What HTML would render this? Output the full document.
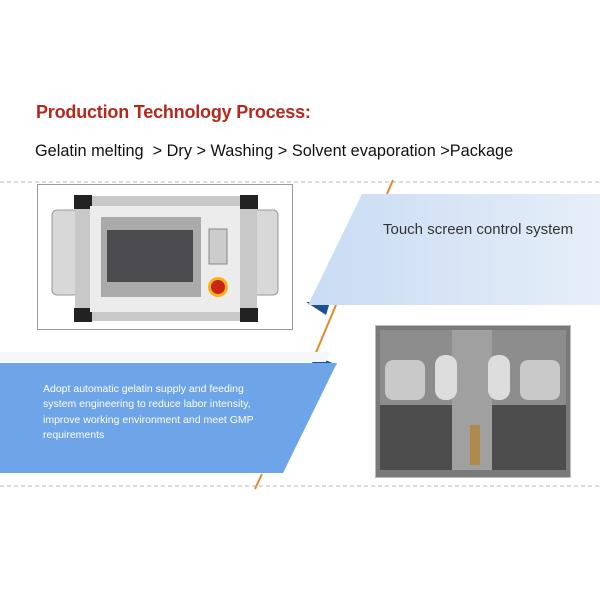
<!DOCTYPE html>
<html><head><style>
body{margin:0;width:600px;height:600px;background:#fff;position:relative;overflow:hidden;font-family:"Liberation Sans",Arial,sans-serif}
.a{position:absolute;white-space:nowrap}
</style></head><body>
<div class="a" style="left:36px;top:102px;font-size:18px;font-weight:bold;color:#b5281e;letter-spacing:-0.2px">Production Technology Process:</div>
<div class="a" style="left:35px;top:142px;font-size:16.3px;color:#111">Gelatin melting &nbsp;&gt; Dry &gt; Washing &gt; Solvent evaporation &gt;Package</div>
<svg class="a" style="left:0;top:0" width="600" height="600">
<line x1="0" y1="182" x2="600" y2="182" stroke="#bbb" stroke-dasharray="4,3"/>
<line x1="0" y1="486" x2="600" y2="486" stroke="#bbb" stroke-dasharray="4,3"/>
<line x1="393" y1="180" x2="387" y2="194" stroke="#e08a2c" stroke-width="2"/>
<line x1="336" y1="305" x2="312" y2="362" stroke="#e08a2c" stroke-width="2"/>
<line x1="262" y1="474" x2="255" y2="489" stroke="#e08a2c" stroke-width="2"/>
<polygon points="306,302 330,302 326,315" fill="#1f4e9a"/>
<polygon points="314,355 337,365 311,368" fill="#1f4e9a"/>
<defs><linearGradient id="g" x1="0" x2="1"><stop offset="0" stop-color="#c9dcf3"/><stop offset="1" stop-color="#e6eef9"/></linearGradient></defs>
<polygon points="0,352 330,352 326,362 0,362" fill="#f6f7f9"/>
<polygon points="362,194 600,194 600,305 308,305" fill="url(#g)"/>
<polygon points="0,363 337,363 283,473 0,473" fill="#6ea4e8"/>
<rect x="37.5" y="184.5" width="255" height="145" fill="#fff" stroke="#999"/>
<rect x="52" y="210" width="26" height="85" rx="5" fill="#d8d8d8" stroke="#999"/>
<rect x="252" y="210" width="26" height="85" rx="5" fill="#d8d8d8" stroke="#999"/>
<rect x="75" y="196" width="182" height="125" rx="6" fill="#c8c8c8"/>
<rect x="74" y="195" width="18" height="14" fill="#222"/>
<rect x="240" y="195" width="18" height="14" fill="#222"/>
<rect x="74" y="308" width="18" height="14" fill="#222"/>
<rect x="240" y="308" width="18" height="14" fill="#222"/>
<rect x="90" y="206" width="150" height="106" fill="#ececec"/>
<rect x="101" y="217" width="100" height="80" fill="#aaa"/>
<rect x="107" y="230" width="86" height="52" fill="#4a4a4f"/>
<rect x="209" y="229" width="18" height="35" fill="#ccc" stroke="#888"/>
<circle cx="218" cy="287" r="10" fill="#f2b31a"/><circle cx="218" cy="287" r="7" fill="#c82418"/>
<rect x="375.5" y="325.5" width="195" height="152" fill="#7a7a7a" stroke="#bbb"/>
<rect x="380" y="330" width="186" height="140" fill="#8d8d8d"/>
<rect x="380" y="405" width="186" height="65" fill="#4d4d4d"/>
<rect x="452" y="330" width="40" height="140" fill="#a0a0a0"/>
<rect x="435" y="355" width="22" height="45" rx="10" fill="#ddd"/>
<rect x="488" y="355" width="22" height="45" rx="10" fill="#ddd"/>
<rect x="385" y="360" width="40" height="40" rx="8" fill="#c9c9c9"/>
<rect x="520" y="360" width="40" height="40" rx="8" fill="#c9c9c9"/>
<rect x="470" y="425" width="10" height="40" fill="#b08a4a"/>
</svg>
<div class="a" style="left:383px;top:221px;font-size:15px;color:#333">Touch screen control system</div>
<div class="a" style="left:43px;top:382px;font-size:10.5px;line-height:15.3px;color:#fff">Adopt automatic gelatin supply and feeding<br>system engineering to reduce labor intensity,<br>improve working environment and meet GMP<br>requirements</div>
</body></html>
